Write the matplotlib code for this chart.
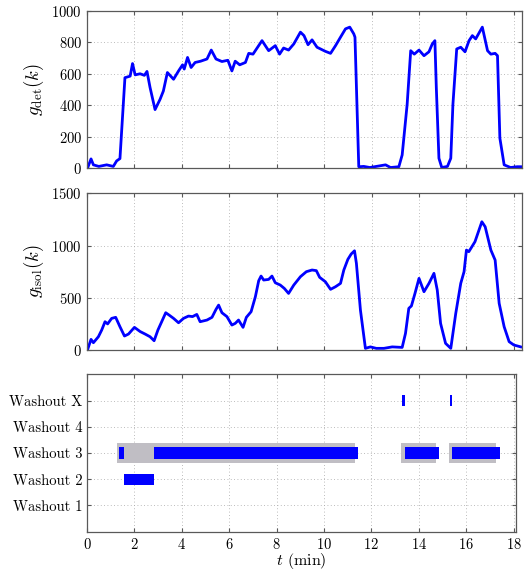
import matplotlib
matplotlib.use("Agg")
import matplotlib.pyplot as plt
import numpy as np

plt.rcParams['font.family'] = ['cmr10', 'DejaVu Serif']
plt.rcParams['mathtext.fontset'] = 'cm'
plt.rcParams['axes.formatter.use_mathtext'] = True
plt.rcParams['font.size'] = 10

# detection statistic
t_det = [0.0, 0.03, 0.17, 0.27, 0.5, 0.83, 1.11, 1.25, 1.39, 1.6, 1.82, 1.92, 2.03, 2.24,
         2.42, 2.53, 2.66, 2.87, 3.08, 3.22, 3.39, 3.65, 3.86, 4.03, 4.1, 4.24, 4.39, 4.56,
         4.79, 5.06, 5.24, 5.44, 5.69, 5.94, 6.11, 6.25, 6.44, 6.68, 6.82, 7.0, 7.38, 7.66,
         7.94, 8.12, 8.29, 8.5, 8.72, 9.0, 9.15, 9.32, 9.49, 9.7, 10.05, 10.27, 10.48, 10.69,
         10.9, 11.08, 11.25, 11.3, 11.46, 11.67, 11.93, 12.2, 12.59, 12.8, 13.15, 13.29, 13.5,
         13.65, 13.8, 14.0, 14.21, 14.42, 14.56, 14.67, 14.73, 14.84, 14.96, 15.2, 15.34,
         15.43, 15.59, 15.76, 15.94, 16.11, 16.25, 16.39, 16.67, 16.89, 17.03, 17.21, 17.31,
         17.41, 17.59, 17.86, 18.14, 18.33]
g_det = [5, 2, 58, 20, 10, 20, 10, 45, 60, 575, 585, 665, 593, 600,
         590, 615, 512, 372, 437, 490, 608, 565, 618, 657, 630, 704, 640, 672,
         680, 694, 751, 694, 678, 686, 618, 680, 657, 672, 730, 725, 811, 747,
         779, 725, 764, 751, 790, 865, 843, 785, 816, 769, 743, 730, 779, 833,
         886, 897, 854, 833, 8, 10, 3, 10, 20, 3, 8, 83, 405,
         747, 725, 751, 715, 740, 790, 811, 512, 62, 3, 10, 62,
         405, 758, 769, 740, 811, 843, 822, 897, 747, 725, 730, 715,
         190, 20, 3, 8, 8]

# isolation statistic
t_isol = [0.0, 0.03, 0.17, 0.27, 0.48, 0.62, 0.76, 0.87, 1.04, 1.21, 1.39, 1.58, 1.75, 2.0,
          2.24, 2.45, 2.66, 2.83, 2.99, 3.15, 3.32, 3.46, 3.65, 3.86, 4.07, 4.28, 4.45, 4.63,
          4.77, 5.06, 5.27, 5.44, 5.55, 5.69, 5.9, 6.11, 6.25, 6.39, 6.58, 6.72, 6.92, 7.1,
          7.24, 7.34, 7.45, 7.66, 7.8, 7.94, 8.15, 8.32, 8.5, 8.72, 9.0, 9.25, 9.49, 9.67,
          9.81, 10.05, 10.27, 10.48, 10.69, 10.83, 11.0, 11.14, 11.28, 11.36, 11.53, 11.74,
          11.95, 12.2, 12.52, 12.87, 13.29, 13.43, 13.57, 13.68, 13.83, 14.0, 14.21, 14.42,
          14.63, 14.77, 14.91, 15.12, 15.34, 15.55, 15.76, 15.9, 16.0, 16.1, 16.36, 16.53,
          16.65, 16.79, 17.03, 17.21, 17.38, 17.59, 17.8, 18.0, 18.29]
g_isol = [5, 7, 102, 70, 127, 191, 271, 250, 303, 313, 223, 134, 153, 217,
          177, 153, 127, 89, 191, 271, 357, 335, 303, 261, 303, 325, 320, 341,
          271, 287, 313, 389, 430, 357, 320, 239, 255, 287, 217, 313, 367, 510,
          663, 708, 670, 676, 708, 644, 622, 590, 542, 622, 702, 750, 766, 760,
          696, 654, 581, 606, 638, 766, 868, 919, 950, 830, 383, 16,
          30, 16, 16, 30, 25, 159, 399, 422, 542, 686, 558, 638,
          734, 574, 255, 64, 16, 351, 638, 750, 957, 941, 1037, 1149,
          1228, 1180, 957, 861, 447, 223, 80, 48, 30]

# washout classification
rows = ['Washout 1', 'Washout 2', 'Washout 3', 'Washout 4', 'Washout X']
gray_row = 3
gray_start = [1.27, 13.24, 15.28]
gray_end = [11.32, 14.73, 17.28]
blue_row = [3, 3, 3, 3, 2, 5, 5]
blue_start = [1.36, 2.83, 13.41, 15.41, 1.58, 13.30, 15.30]
blue_end = [1.58, 11.45, 14.86, 17.42, 2.82, 13.41, 15.40]

blue = '#0000ff'
spine_col = '0.35'


def style(ax):
    ax.grid(True, linestyle=(0, (1, 3)), color='0.65', linewidth=0.6)
    ax.set_axisbelow(True)
    ax.tick_params(direction='in', top=True, right=True, length=3,
                   color=spine_col, labelsize=10.5)
    for s in ax.spines.values():
        s.set_color(spine_col)
        s.set_linewidth(0.9)


fig = plt.figure(figsize=(5.25, 5.71), dpi=100)

ax1 = fig.add_axes([0.1657, 0.7058, 0.828, 0.275])
ax1.plot(t_det, g_det, color=blue, linewidth=2.0)
ax1.set_xlim(0, 18.33)
ax1.set_ylim(0, 1000)
ax1.set_xticks(np.arange(0, 19, 2))
ax1.set_xticklabels([])
ax1.set_yticks([0, 200, 400, 600, 800, 1000])
ax1.set_ylabel(r'$g_{\mathrm{det}}(k)$', fontsize=13.5)
style(ax1)

ax2 = fig.add_axes([0.1657, 0.387, 0.828, 0.2744])
ax2.plot(t_isol, g_isol, color=blue, linewidth=2.0)
ax2.set_xlim(0, 18.33)
ax2.set_ylim(0, 1500)
ax2.set_xticks(np.arange(0, 19, 2))
ax2.set_xticklabels([])
ax2.set_yticks([0, 500, 1000, 1500])
ax2.set_ylabel(r'$g_{\mathrm{isol}}(k)$', fontsize=13.5)
style(ax2)

ax3 = fig.add_axes([0.1657, 0.0688, 0.817, 0.2757])
for s, e in zip(gray_start, gray_end):
    ax3.barh(gray_row, e - s, left=s, height=0.79, color='#c0bec4', linewidth=0)
for r, s, e in zip(blue_row, blue_start, blue_end):
    ax3.barh(r, e - s, left=s, height=0.43, color=blue, linewidth=0)
ax3.set_xlim(0, 18.1)
ax3.set_ylim(0, 6)
ax3.set_xticks(np.arange(0, 19, 2))
ax3.set_yticks(range(1, 6))
ax3.set_yticklabels(rows, fontsize=11)
ax3.set_xlabel(r'$t$ (min)', fontsize=11.5)
ax3.xaxis.set_label_coords(0.5, -0.125)
style(ax3)

fig.savefig('out.png', dpi=100)
